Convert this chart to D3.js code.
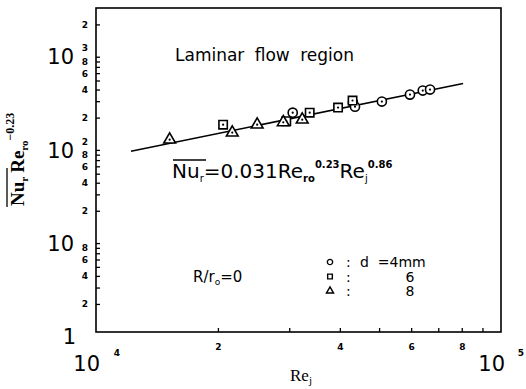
<!DOCTYPE html>
<html>
<head>
<meta charset="utf-8">
<script src="https://cdn.jsdelivr.net/npm/d3@7"></script>
<style>
  body { margin: 0; background: #fff; }
  svg { display: block; }
</style>
</head>
<body>
<svg id="svgHolder"></svg>
<script>
// Nu_r Re_ro^-0.23 vs Re_j, laminar flow region
let width = 526;
let height = 389;

// measured points [Re_j, Nu_r*Re_ro^-0.23]
let circlePts = [[30600, 226], [43100, 290], [43600, 262], [50800, 297], [59600, 353], [64100, 390], [66800, 400]];
let squarePts = [[20600, 168], [29500, 183], [33700, 226], [39600, 256], [43000, 305]];
let trianglePts = [[15200, 116], [21700, 138], [25000, 168], [29000, 178], [32300, 190]];

// correlation line end points
let fitLine = [[12200, 87], [80600, 464]];

let xTicks = [20000, 30000, 40000, 50000, 60000, 70000, 80000, 90000];
let xTickLabels = ['2', '', '4', '', '6', '', '8', ''];
let yTicks = [2, 3, 4, 5, 6, 7, 8, 9, 20, 30, 40, 50, 60, 70, 80, 90, 200, 300, 400, 500, 600, 700, 800, 900, 2000];
let yTickLabels = ['2', '', '4', '', '6', '', '8', '', '2', '', '4', '', '6', '', '8', '', '2', '', '4', '', '6', '', '8', '', '2'];
let yDecades = [1, 10, 100, 1000];
let yDecadeExp = ['', '', '2', '3'];

let legendRows = ['d  =4mm', '6', '8'];

let xScale = d3.scaleLog().domain([1e4, 1e5]).range([96, 501]);
let yScale = d3.scaleLog().domain([1, 3000]).range([332, 8]);

let svg = d3.select('#svgHolder')
    .attr('width', width)
    .attr('height', height)
    .style('background', '#fff');

// frame
svg.append('rect')
    .attr('x', xScale(1e4))
    .attr('y', yScale(3000))
    .attr('width', xScale(1e5) - xScale(1e4))
    .attr('height', yScale(1) - yScale(3000))
    .attr('fill', 'none')
    .attr('stroke', '#000')
    .attr('stroke-width', 1.6);

// axes with inward ticks
let xAxis = d3.axisBottom(xScale)
    .tickValues(xTicks)
    .tickSizeInner(-4)
    .tickSizeOuter(0)
    .tickPadding(12)
    .tickFormat((d, i) => xTickLabels[i]);

let yAxis = d3.axisLeft(yScale)
    .tickValues(yTicks)
    .tickSizeInner(-4)
    .tickSizeOuter(0)
    .tickPadding(8)
    .tickFormat((d, i) => yTickLabels[i]);

let gx = svg.append('g')
    .attr('transform', 'translate(0,' + yScale(1) + ')')
    .call(xAxis);
let gy = svg.append('g')
    .attr('transform', 'translate(' + xScale(1e4) + ',0)')
    .call(yAxis);

[gx, gy].forEach((g) => {
    g.select('.domain').remove();
    g.selectAll('line').attr('stroke', '#000').attr('stroke-width', 1.3);
    g.selectAll('text')
        .attr('fill', '#000')
        .style('font-family', 'DejaVu Sans, sans-serif')
        .style('font-weight', 'bold')
        .style('font-size', '9px');
});

// decade labels on y
let bigFont = 'DejaVu Sans, sans-serif';
svg.selectAll('.ydec')
    .data(yDecades)
    .enter()
    .append('text')
    .attr('class', 'ydec')
    .attr('x', (d) => d == 1 ? 76 : 74)
    .attr('y', (d) => yScale(d) + 12)
    .attr('text-anchor', 'end')
    .attr('fill', '#000')
    .style('font-family', bigFont)
    .style('font-size', '21px')
    .text((d) => d == 1 ? '1' : '10');

svg.selectAll('.yexp')
    .data(yDecades)
    .enter()
    .append('text')
    .attr('class', 'yexp')
    .attr('x', 88)
    .attr('y', (d) => yScale(d) - 1)
    .attr('text-anchor', 'end')
    .attr('fill', '#000')
    .style('font-family', bigFont)
    .style('font-size', '9px')
    .style('font-weight', 'bold')
    .text((d, i) => yDecadeExp[i]);

// decade labels on x
[[1e4, '4'], [1e5, '5']].forEach(([v, e]) => {
    let cx = xScale(v);
    svg.append('text')
        .attr('x', cx + 4)
        .attr('y', 371)
        .attr('text-anchor', 'end')
        .attr('fill', '#000')
        .style('font-family', bigFont)
        .style('font-size', '21px')
        .text('10');
    svg.append('text')
        .attr('x', cx + (v == 1e4 ? 21 : 20))
        .attr('y', 356)
        .attr('text-anchor', 'middle')
        .attr('fill', '#000')
        .style('font-family', bigFont)
        .style('font-size', '9px')
        .style('font-weight', 'bold')
        .text(e);
});

// x title
let xt = svg.append('text')
    .attr('x', 290)
    .attr('y', 381)
    .style('font-family', 'Liberation Serif, serif')
    .style('font-size', '17px');
xt.append('tspan').text('Re');
xt.append('tspan').attr('dy', 3).style('font-size', '11px').text('j');

// y title, rotated
let yt = svg.append('text')
    .attr('transform', 'translate(24,206) rotate(-90)')
    .style('font-family', 'Liberation Serif, serif')
    .style('font-weight', 'bold')
    .style('font-size', '19px');
yt.append('tspan').text('Nu');
yt.append('tspan').attr('dy', 4).style('font-size', '11px').text('r');
yt.append('tspan').attr('dx', 4).attr('dy', -4).text('Re');
yt.append('tspan').attr('dy', 4).style('font-size', '11px').text('ro');
yt.append('tspan').attr('dy', -14).style('font-size', '12px').text('\u22120.23');
svg.append('line')
    .attr('x1', 7).attr('x2', 7)
    .attr('y1', 207).attr('y2', 168)
    .attr('stroke', '#000').attr('stroke-width', 1.3);

// correlation line
let line = d3.line()
    .x((d) => xScale(d[0]))
    .y((d) => yScale(d[1]));
svg.append('path')
    .datum(fitLine)
    .attr('d', line)
    .attr('fill', 'none')
    .attr('stroke', '#000')
    .attr('stroke-width', 1.6);

// markers
function drawMarkers(data, type, size) {
    let g = svg.append('g');
    g.selectAll('path')
        .data(data)
        .enter()
        .append('path')
        .attr('transform', (d) => 'translate(' + xScale(d[0]) + ',' + yScale(d[1]) + ')')
        .attr('d', d3.symbol().type(type).size(size))
        .attr('fill', '#fff')
        .attr('stroke', '#000')
        .attr('stroke-width', 1.6);
    g.selectAll('circle')
        .data(data)
        .enter()
        .append('circle')
        .attr('cx', (d) => xScale(d[0]))
        .attr('cy', (d) => yScale(d[1]))
        .attr('r', 1.1)
        .attr('fill', '#000');
}
drawMarkers(circlePts, d3.symbolCircle, 65);
drawMarkers(squarePts, d3.symbolSquare, 70);
drawMarkers(trianglePts, d3.symbolTriangle, 60);

// annotations
svg.append('text')
    .attr('x', 175)
    .attr('y', 61)
    .style('font-family', bigFont)
    .style('font-size', '17px')
    .style('word-spacing', '5px')
    .text('Laminar flow region');

let ft = svg.append('text')
    .attr('x', 172)
    .attr('y', 178)
    .style('font-family', bigFont)
    .style('font-size', '20px');
ft.append('tspan').text('Nu');
ft.append('tspan').attr('dy', 4).style('font-size', '10px').text('r');
ft.append('tspan').attr('dy', -4).text('=0.031Re');
ft.append('tspan').attr('dy', 4).style('font-size', '10px').style('font-weight', 'bold').text('ro');
ft.append('tspan').attr('dy', -14).style('font-size', '10px').style('font-weight', 'bold').text('0.23');
ft.append('tspan').attr('dy', 10).text('Re');
ft.append('tspan').attr('dy', 4).style('font-size', '10px').text('j');
ft.append('tspan').attr('dy', -14).style('font-size', '10px').style('font-weight', 'bold').text('0.86');
svg.append('line')
    .attr('x1', 173).attr('x2', 206)
    .attr('y1', 160).attr('y2', 160)
    .attr('stroke', '#000').attr('stroke-width', 1.3);

// legend
let lt = svg.append('text')
    .attr('x', 193)
    .attr('y', 282)
    .style('font-family', bigFont)
    .style('font-size', '15px');
lt.append('tspan').text('R/r');
lt.append('tspan').attr('dy', 3).style('font-size', '9px').text('o');
lt.append('tspan').attr('dy', -3).text('=0');

let legendTypes = [d3.symbolCircle, d3.symbolSquare, d3.symbolTriangle];
legendRows.forEach((t, i) => {
    let ly = 262 + i * 14.5;
    svg.append('path')
        .attr('transform', 'translate(330,' + ly + ')')
        .attr('d', d3.symbol().type(legendTypes[i]).size(22))
        .attr('fill', 'none')
        .attr('stroke', '#000')
        .attr('stroke-width', 1.4);
    svg.append('text')
        .attr('x', 346)
        .attr('y', ly + 5)
        .style('font-family', bigFont)
        .style('font-size', '14px')
        .text(':');
    svg.append('text')
        .attr('x', i == 0 ? 360 : 410)
        .attr('y', ly + 5)
        .attr('text-anchor', i == 0 ? 'start' : 'middle')
        .style('font-family', bigFont)
        .style('font-size', '14px')
        .style('white-space', 'pre')
        .text(t);
});
</script>
</body>
</html>
